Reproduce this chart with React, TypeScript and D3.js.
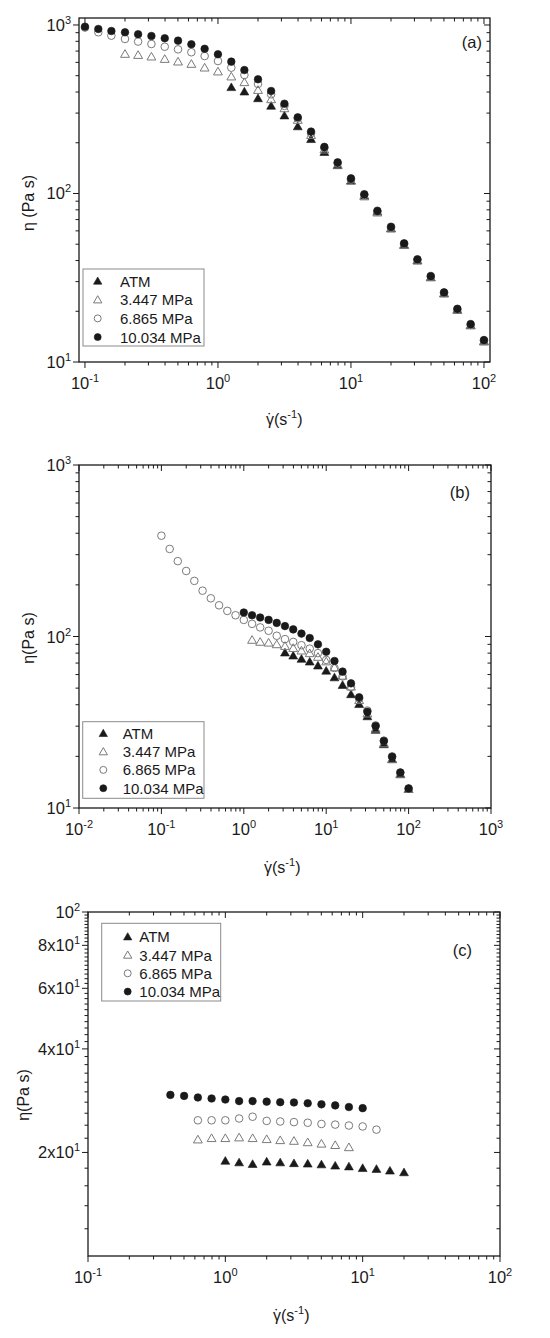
import * as d3 from 'd3'

// shear rate grid (s^-1), ten points per decade as logged by the rheometer
const SHEAR = [
  0.1, 0.126, 0.158, 0.2, 0.251, 0.316, 0.398, 0.501, 0.631, 0.794,
  1, 1.26, 1.58, 2, 2.51, 3.16, 3.98, 5.01, 6.31, 7.94,
  10, 12.6, 15.8, 20, 25.1, 31.6, 39.8, 50.1, 63.1, 79.4, 100,
]

const SERIES_NAMES = ['ATM', '3.447 MPa', '6.865 MPa', '10.034 MPa']

// panel (a)
const A_ATM = [427, 402, 367, 331, 290, 250, 210, 176, 147, 119, 97, 78, 62, 49.5, 40, 31.8, 25.5, 20.4, 16.5, 13.2]
const A_P3 = [673, 663, 649, 628, 606, 587, 558, 529, 494, 457, 411, 362, 320, 273, 222, 182, 148, 119, 96, 77, 62, 49.5, 40, 31.8, 25.5, 20.4, 16.5, 13.3]
const A_P6 = [965, 905, 864, 826, 797, 771, 743, 717, 689, 654, 611, 558, 505, 447, 388, 331, 279, 228, 186, 151, 121, 98, 78, 62.8, 50.2, 40.3, 32.1, 25.7, 20.5, 16.6, 13.4]
const A_P10 = [977, 947, 921, 905, 881, 860, 834, 807, 768, 722, 670, 606, 540, 476, 406, 341, 283, 233, 189, 153, 123, 99, 79, 63.5, 50.6, 40.7, 32.4, 25.9, 20.7, 16.8, 13.5]

// panel (b)
const B_ATM = [80.5, 77.3, 74, 71.3, 67.6, 63.1, 57.7, 52.1, 46, 40.3, 34.2, 28.5, 23.5, 19.2, 15.7, 12.9]
const B_P3 = [95.5, 93, 92, 90, 88, 85.6, 82.7, 79.8, 76, 71.5, 66, 59, 51, 42.5, 35.5, 29, 23.8, 19.3, 15.8, 12.9]
const B_P6 = [387, 324, 275, 241, 211, 185, 167, 152, 141, 133, 125, 118.5, 113, 108, 101, 96.5, 93, 89, 85, 80, 73, 65.5, 58.5, 50.8, 43.5, 37, 30.3, 24.7, 20, 16.1, 13]
const B_P10 = [138, 133, 129, 125, 120, 115, 110, 104, 98, 90, 81.5, 72, 62.4, 53.3, 44.2, 36.4, 30.1, 24.6, 19.9, 16.1, 13.0]

// panel (c)
const C_ATM = [18.9, 18.7, 18.5, 18.8, 18.7, 18.6, 18.55, 18.45, 18.3, 18.2, 18.0, 17.9, 17.7, 17.5]
const C_P3 = [21.8, 22.0, 22.0, 22.1, 22.0, 21.85, 21.7, 21.6, 21.4, 21.2, 21.0, 20.7]
const C_P6 = [24.8, 24.8, 24.8, 25.1, 25.4, 24.7, 24.6, 24.5, 24.4, 24.2, 24.1, 23.95, 23.8, 23.3]
const C_P10 = [29.4, 29.2, 28.9, 28.7, 28.5, 28.2, 28.2, 28.1, 28.0, 27.95, 27.8, 27.6, 27.4, 27.1, 26.9]

// first shear rate of each series, per panel
const A_START = [1.26, 0.2, 0.1, 0.1]
const B_START = [3.16, 1.26, 0.1, 1]
const C_START = [1, 0.631, 0.631, 0.398]

// axis ticks
const A_X_MAJOR = [0.1, 1, 10, 100]
const A_Y_MAJOR = [10, 100, 1000]
const B_X_MAJOR = [0.01, 0.1, 1, 10, 100, 1000]
const B_Y_MAJOR = [10, 100, 1000]
const C_X_MAJOR = [0.1, 1, 10, 100]
const C_Y_MAJOR = [20, 40, 60, 80, 100]
const C_Y_LABELS = [['2x10', '1'], ['4x10', '1'], ['6x10', '1'], ['8x10', '1'], ['10', '2']]

const FONT = '"Liberation Sans", Arial, sans-serif'
const GREY = '#7a7a7a'
const INK = '#1a1a1a'

type Style = { shape: 'tri' | 'circle'; filled: boolean }
const STYLES: Style[] = [
  { shape: 'tri', filled: true },
  { shape: 'tri', filled: false },
  { shape: 'circle', filled: false },
  { shape: 'circle', filled: true },
]

function seriesFrom(starts: number[], values: number[][]) {
  return values.map((ys, i) => {
    const s = SHEAR.indexOf(starts[i])
    return { x: SHEAR.slice(s, s + ys.length), y: ys, style: STYLES[i], name: SERIES_NAMES[i] }
  })
}

const triPath = d3.symbol(d3.symbolTriangle, 34)()
const triPathSmall = d3.symbol(d3.symbolTriangle, 30)()

function Marker({ x, y, style, small }: { x: number; y: number; style: Style; small?: boolean }) {
  const fill = style.filled ? INK : 'none'
  const stroke = style.filled ? INK : GREY
  if (style.shape === 'circle') {
    return <circle cx={x} cy={y} r={small ? 3.5 : 3.8} fill={fill} stroke={stroke} strokeWidth={style.filled ? 0.6 : 1} />
  }
  return (
    <path d={(small ? triPathSmall : triPath) ?? ''} transform={`translate(${x},${y + 0.8})`}
      fill={fill} stroke={stroke} strokeWidth={style.filled ? 0.6 : 1} />
  )
}

function Pow({ base, exp, ...rest }: { base: string; exp: string; [k: string]: any }) {
  return (
    <text {...rest}>
      {base}
      <tspan dy={-7} fontSize={11}>{exp}</tspan>
    </text>
  )
}

interface PanelProps {
  left: number; top: number; right: number; bottom: number
  xDomain: [number, number]; yDomain: [number, number]
  xMajor: number[]; yMajor: number[]
  yLabels?: string[][]
  yMinor?: number[]
  series: ReturnType<typeof seriesFrom>
  legend: { x: number; y: number; w: number; h: number; row0: number; step: number; sx: number; tx: number }
  tag: string; tagX: number; tagY: number
  yTitle: string; yTitleX: number; yTitleY: number
  xTitleX: number; xTitleY: number
}

function Panel(p: PanelProps) {
  const x = d3.scaleLog().domain(p.xDomain).range([p.left, p.right])
  const y = d3.scaleLog().domain(p.yDomain).range([p.bottom, p.top])
  const xMinor = x.ticks().filter(v => !p.xMajor.some(m => Math.abs(m - v) / m < 1e-6))
  const yMinor = p.yMinor ?? y.ticks().filter(v => !p.yMajor.some(m => Math.abs(m - v) / m < 1e-6))
  const MAJ = 6
  const MIN = 3.5
  const exp = (v: number) => String(Math.round(Math.log10(v)))
  return (
    <g>
      {/* bottom & top axes */}
      {p.xMajor.map(v => (
        <g key={'xM' + v}>
          <line x1={x(v)} x2={x(v)} y1={p.bottom} y2={p.bottom + MAJ} stroke={INK} />
          <line x1={x(v)} x2={x(v)} y1={p.top} y2={p.top + MAJ} stroke={INK} />
          <Pow base="10" exp={exp(v)} x={x(v)} y={p.bottom + 27} textAnchor="middle" fontSize={16.5} fontFamily={FONT} fill={INK} />
        </g>
      ))}
      {xMinor.map(v => (
        <g key={'xm' + v}>
          <line x1={x(v)} x2={x(v)} y1={p.bottom} y2={p.bottom + MIN} stroke={INK} />
          <line x1={x(v)} x2={x(v)} y1={p.top} y2={p.top + MIN} stroke={INK} />
        </g>
      ))}
      {/* left & right axes */}
      {p.yMajor.map((v, i) => (
        <g key={'yM' + v}>
          <line x1={p.left - MAJ} x2={p.left} y1={y(v)} y2={y(v)} stroke={INK} />
          <line x1={p.right - MAJ} x2={p.right} y1={y(v)} y2={y(v)} stroke={INK} />
          <Pow base={p.yLabels ? p.yLabels[i][0] : '10'} exp={p.yLabels ? p.yLabels[i][1] : exp(v)}
            x={p.left - 8} y={y(v) + 6} textAnchor="end" fontSize={16.5} fontFamily={FONT} fill={INK} />
        </g>
      ))}
      {yMinor.map(v => (
        <g key={'ym' + v}>
          <line x1={p.left - MIN} x2={p.left} y1={y(v)} y2={y(v)} stroke={INK} />
          <line x1={p.right - MIN} x2={p.right} y1={y(v)} y2={y(v)} stroke={INK} />
        </g>
      ))}
      <rect x={p.left} y={p.top} width={p.right - p.left} height={p.bottom - p.top}
        fill="none" stroke={INK} strokeWidth={1.3} />

      {/* data */}
      {p.series.map(s => (
        <g key={s.name}>
          {s.x.map((xv, i) => <Marker key={i} x={x(xv)} y={y(s.y[i])} style={s.style} />)}
        </g>
      ))}

      {/* legend */}
      <rect x={p.legend.x} y={p.legend.y} width={p.legend.w} height={p.legend.h} fill="none" stroke="#8a8a8a" />
      {p.series.map((s, i) => {
        const cy = p.legend.y + p.legend.row0 + i * p.legend.step
        return (
          <g key={'lg' + s.name}>
            <Marker x={p.legend.x + p.legend.sx} y={cy} style={s.style} small />
            <text x={p.legend.x + p.legend.tx} y={cy + 5.5} fontSize={15} fontFamily={FONT} fill={INK}>{s.name}</text>
          </g>
        )
      })}

      <text x={p.tagX} y={p.tagY} textAnchor="end" fontSize={16.5} fontFamily={FONT} fill={INK}>{p.tag}</text>

      <text transform={`translate(${p.yTitleX},${p.yTitleY}) rotate(-90)`} textAnchor="middle"
        fontSize={16} fontFamily={FONT} fill={INK}>{p.yTitle}</text>
      {/* γ with an overdot, then (s^-1) */}
      <text x={p.xTitleX - 19} y={p.xTitleY} fontSize={16} fontFamily={FONT} fill={INK}>
        {'\u03B3'}<tspan dx={-6.8}>{'\u02D9'}</tspan><tspan dx={1.5}>(s</tspan>
        <tspan dy={-7} fontSize={11}>-1</tspan><tspan dy={7}>)</tspan>
      </text>
    </g>
  )
}

export default function App() {
  const cMinor = d3.range(12, 100, 2).filter(v => !C_Y_MAJOR.includes(v))
  return (
    <svg width={550} height={1338} style={{ position: 'absolute', left: 0, top: 0, background: 'white' }}>
      <rect width={550} height={1338} fill="white" />
      <Panel left={79} top={18} right={490} bottom={362}
        xDomain={[0.0902, 111]} yDomain={[10, 1100]}
        xMajor={A_X_MAJOR} yMajor={A_Y_MAJOR}
        series={seriesFrom(A_START, [A_ATM, A_P3, A_P6, A_P10])}
        legend={{ x: 83, y: 269, w: 121, h: 77, row0: 12, step: 18.7, sx: 14.7, tx: 37 }}
        tag="(a)" tagX={482} tagY={48}
        yTitle="η (Pa s)" yTitleX={34} yTitleY={203}
        xTitleX={285} xTitleY={425} />
      <Panel left={79} top={465} right={491} bottom={808}
        xDomain={[0.01, 1000]} yDomain={[10, 1000]}
        xMajor={B_X_MAJOR} yMajor={B_Y_MAJOR}
        series={seriesFrom(B_START, [B_ATM, B_P3, B_P6, B_P10])}
        legend={{ x: 82.7, y: 721.7, w: 121.3, h: 76.6, row0: 11.6, step: 18.3, sx: 20.6, tx: 40 }}
        tag="(b)" tagX={470} tagY={498}
        yTitle="η(Pa s)" yTitleX={34} yTitleY={638}
        xTitleX={283} xTitleY={873} />
      <Panel left={88} top={912} right={500} bottom={1256}
        xDomain={[0.1, 100]} yDomain={[10, 100]}
        xMajor={C_X_MAJOR} yMajor={C_Y_MAJOR} yLabels={C_Y_LABELS} yMinor={cMinor}
        series={seriesFrom(C_START, [C_ATM, C_P3, C_P6, C_P10])}
        legend={{ x: 101.7, y: 923.3, w: 119, h: 77.7, row0: 13.4, step: 18.3, sx: 26, tx: 37.6 }}
        tag="(c)" tagX={472} tagY={956}
        yTitle="η(Pa s)" yTitleX={29} yTitleY={1095}
        xTitleX={292} xTitleY={1321} />
    </svg>
  )
}
